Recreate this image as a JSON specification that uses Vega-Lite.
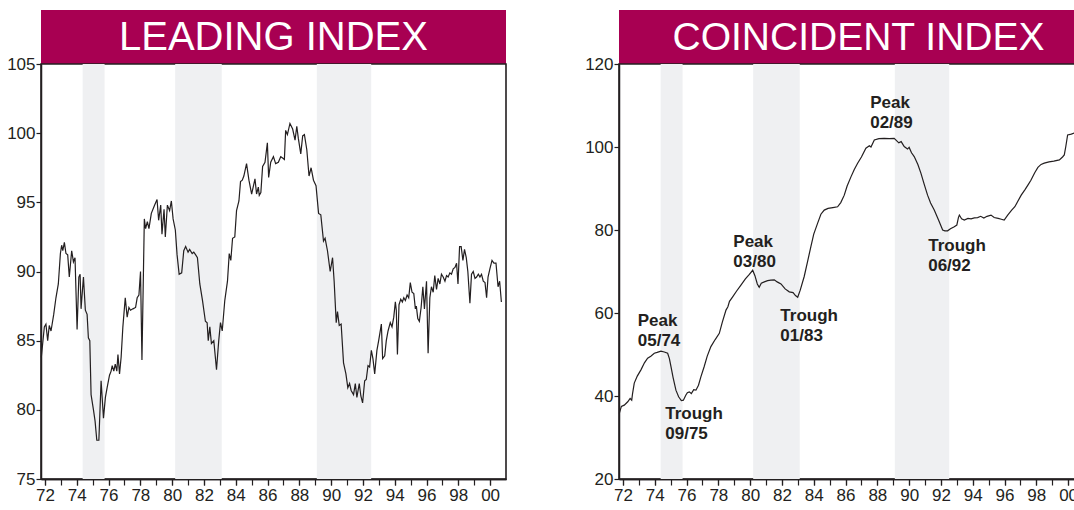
{
  "$schema": "https://vega.github.io/schema/vega-lite/v6.json",
  "padding": {"left": 5, "top": 10, "right": 0, "bottom": 0},
  "background": "white",
  "columns": 2,
  "spacing": {"row": 0, "column": 113},
  "bounds": "flush",
  "config": {
    "font": "Liberation Sans",
    "axis": {"labelFont": "Liberation Sans", "labelFontSize": 17, "labelColor": "#231F20", "tickColor": "#231F20", "domainColor": "#231F20", "grid": false, "domainWidth": 1.5, "tickWidth": 1.2, "labelFlush": false, "labelOverlap": false},
    "view": {"stroke": "#231F20", "strokeWidth": 1.6}
  },
  "datasets": {
    "rec": [
      {"start": 1974.37, "end": 1975.75},
      {"start": 1980.19, "end": 1983.12},
      {"start": 1989.1, "end": 1992.52}
    ],
    "lead": [
      {"year":1971.77,"value":83.8},{"year":1971.96,"value":86.0},{"year":1972.06,"value":86.2},{"year":1972.17,"value":85.0},{"year":1972.27,"value":86.1},{"year":1972.38,"value":85.7},{"year":1972.55,"value":86.9},{"year":1972.69,"value":88.1},{"year":1972.84,"value":89.1},{"year":1972.97,"value":91.3},{"year":1973.05,"value":91.9},{"year":1973.12,"value":91.5},{"year":1973.22,"value":92.1},{"year":1973.32,"value":91.3},{"year":1973.43,"value":91.2},{"year":1973.53,"value":89.6},{"year":1973.68,"value":91.5},{"year":1973.79,"value":90.7},{"year":1973.89,"value":91.0},{"year":1974.02,"value":85.8},{"year":1974.13,"value":89.6},{"year":1974.21,"value":89.8},{"year":1974.27,"value":87.3},{"year":1974.42,"value":89.6},{"year":1974.54,"value":87.2},{"year":1974.65,"value":86.9},{"year":1974.73,"value":85.2},{"year":1974.82,"value":85.0},{"year":1974.9,"value":81.1},{"year":1975.05,"value":80.0},{"year":1975.15,"value":79.2},{"year":1975.26,"value":77.8},{"year":1975.39,"value":77.8},{"year":1975.53,"value":82.1},{"year":1975.68,"value":79.4},{"year":1975.8,"value":80.9},{"year":1975.91,"value":81.6},{"year":1976.06,"value":82.5},{"year":1976.16,"value":82.8},{"year":1976.23,"value":83.2},{"year":1976.33,"value":82.8},{"year":1976.42,"value":83.3},{"year":1976.52,"value":82.8},{"year":1976.59,"value":84.0},{"year":1976.69,"value":82.6},{"year":1976.79,"value":83.8},{"year":1976.9,"value":86.0},{"year":1977.05,"value":88.1},{"year":1977.17,"value":86.7},{"year":1977.28,"value":87.4},{"year":1977.38,"value":87.2},{"year":1977.53,"value":87.3},{"year":1977.7,"value":87.4},{"year":1977.8,"value":88.1},{"year":1977.91,"value":88.3},{"year":1978.01,"value":90.0},{"year":1978.1,"value":83.6},{"year":1978.25,"value":93.8},{"year":1978.33,"value":93.1},{"year":1978.44,"value":93.6},{"year":1978.54,"value":93.1},{"year":1978.69,"value":94.2},{"year":1978.9,"value":94.8},{"year":1979.05,"value":95.2},{"year":1979.15,"value":93.7},{"year":1979.28,"value":94.8},{"year":1979.36,"value":92.7},{"year":1979.49,"value":94.5},{"year":1979.57,"value":92.5},{"year":1979.7,"value":94.8},{"year":1979.84,"value":94.4},{"year":1979.95,"value":95.1},{"year":1980.06,"value":93.8},{"year":1980.2,"value":93.0},{"year":1980.31,"value":91.2},{"year":1980.44,"value":89.8},{"year":1980.6,"value":89.9},{"year":1980.73,"value":91.5},{"year":1980.85,"value":91.8},{"year":1981.0,"value":91.4},{"year":1981.1,"value":91.6},{"year":1981.26,"value":91.3},{"year":1981.36,"value":91.4},{"year":1981.48,"value":91.2},{"year":1981.59,"value":91.0},{"year":1981.74,"value":89.1},{"year":1981.91,"value":87.9},{"year":1982.09,"value":86.4},{"year":1982.2,"value":86.3},{"year":1982.27,"value":85.0},{"year":1982.37,"value":86.0},{"year":1982.47,"value":84.8},{"year":1982.62,"value":85.0},{"year":1982.79,"value":82.9},{"year":1982.93,"value":85.0},{"year":1983.04,"value":86.3},{"year":1983.15,"value":85.7},{"year":1983.31,"value":87.9},{"year":1983.48,"value":89.3},{"year":1983.59,"value":91.3},{"year":1983.69,"value":90.8},{"year":1983.8,"value":92.4},{"year":1983.94,"value":92.5},{"year":1984.05,"value":94.4},{"year":1984.2,"value":95.1},{"year":1984.3,"value":96.5},{"year":1984.41,"value":96.6},{"year":1984.51,"value":96.9},{"year":1984.68,"value":97.8},{"year":1984.83,"value":96.6},{"year":1985.0,"value":95.6},{"year":1985.21,"value":96.7},{"year":1985.31,"value":95.6},{"year":1985.42,"value":96.1},{"year":1985.48,"value":95.5},{"year":1985.58,"value":95.7},{"year":1985.69,"value":97.6},{"year":1985.84,"value":97.9},{"year":1985.99,"value":99.3},{"year":1986.07,"value":96.8},{"year":1986.2,"value":97.9},{"year":1986.37,"value":98.3},{"year":1986.51,"value":97.8},{"year":1986.68,"value":97.9},{"year":1986.83,"value":98.3},{"year":1986.95,"value":98.2},{"year":1987.06,"value":98.1},{"year":1987.14,"value":100.2},{"year":1987.25,"value":99.9},{"year":1987.41,"value":100.7},{"year":1987.58,"value":100.3},{"year":1987.73,"value":99.5},{"year":1987.84,"value":100.5},{"year":1987.94,"value":99.6},{"year":1988.09,"value":98.5},{"year":1988.21,"value":99.8},{"year":1988.32,"value":99.9},{"year":1988.47,"value":98.8},{"year":1988.61,"value":96.9},{"year":1988.74,"value":97.5},{"year":1988.89,"value":96.6},{"year":1989.05,"value":96.2},{"year":1989.21,"value":94.2},{"year":1989.35,"value":94.1},{"year":1989.52,"value":92.2},{"year":1989.62,"value":92.4},{"year":1989.77,"value":91.5},{"year":1989.94,"value":90.0},{"year":1990.09,"value":91.0},{"year":1990.19,"value":89.3},{"year":1990.32,"value":86.3},{"year":1990.4,"value":87.1},{"year":1990.51,"value":86.1},{"year":1990.63,"value":86.2},{"year":1990.78,"value":83.4},{"year":1990.93,"value":82.6},{"year":1991.05,"value":81.6},{"year":1991.16,"value":81.9},{"year":1991.26,"value":81.4},{"year":1991.41,"value":81.1},{"year":1991.52,"value":81.9},{"year":1991.62,"value":80.9},{"year":1991.77,"value":81.9},{"year":1991.87,"value":81.0},{"year":1991.98,"value":80.5},{"year":1992.11,"value":82.1},{"year":1992.21,"value":82.2},{"year":1992.32,"value":83.2},{"year":1992.42,"value":83.1},{"year":1992.53,"value":84.3},{"year":1992.63,"value":83.7},{"year":1992.74,"value":82.6},{"year":1992.88,"value":84.3},{"year":1992.99,"value":85.0},{"year":1993.16,"value":86.2},{"year":1993.24,"value":83.7},{"year":1993.37,"value":83.9},{"year":1993.47,"value":85.0},{"year":1993.58,"value":85.7},{"year":1993.72,"value":86.3},{"year":1993.83,"value":86.0},{"year":1993.94,"value":86.7},{"year":1994.04,"value":87.8},{"year":1994.1,"value":87.2},{"year":1994.17,"value":84.0},{"year":1994.27,"value":87.6},{"year":1994.38,"value":88.0},{"year":1994.48,"value":87.8},{"year":1994.57,"value":88.1},{"year":1994.67,"value":87.9},{"year":1994.78,"value":88.3},{"year":1994.88,"value":88.1},{"year":1994.98,"value":89.2},{"year":1995.09,"value":88.5},{"year":1995.2,"value":88.4},{"year":1995.3,"value":87.3},{"year":1995.36,"value":87.5},{"year":1995.45,"value":86.6},{"year":1995.55,"value":86.4},{"year":1995.66,"value":87.4},{"year":1995.77,"value":88.9},{"year":1995.87,"value":87.3},{"year":1996.0,"value":89.3},{"year":1996.1,"value":84.1},{"year":1996.21,"value":88.1},{"year":1996.31,"value":88.9},{"year":1996.42,"value":88.5},{"year":1996.52,"value":89.7},{"year":1996.63,"value":88.7},{"year":1996.73,"value":89.5},{"year":1996.84,"value":89.1},{"year":1996.94,"value":89.8},{"year":1997.05,"value":89.6},{"year":1997.16,"value":89.3},{"year":1997.26,"value":89.7},{"year":1997.36,"value":89.6},{"year":1997.47,"value":89.9},{"year":1997.57,"value":89.8},{"year":1997.68,"value":90.2},{"year":1997.79,"value":90.3},{"year":1997.89,"value":90.6},{"year":1997.98,"value":89.1},{"year":1998.08,"value":91.8},{"year":1998.18,"value":91.8},{"year":1998.29,"value":90.8},{"year":1998.39,"value":91.6},{"year":1998.5,"value":91.0},{"year":1998.6,"value":90.0},{"year":1998.73,"value":87.7},{"year":1998.83,"value":89.8},{"year":1998.94,"value":90.0},{"year":1999.05,"value":89.5},{"year":1999.15,"value":89.6},{"year":1999.26,"value":89.8},{"year":1999.36,"value":89.6},{"year":1999.46,"value":89.8},{"year":1999.57,"value":89.3},{"year":1999.68,"value":89.2},{"year":1999.78,"value":88.1},{"year":1999.87,"value":89.6},{"year":1999.99,"value":90.2},{"year":2000.12,"value":90.8},{"year":2000.24,"value":90.6},{"year":2000.37,"value":90.6},{"year":2000.5,"value":88.9},{"year":2000.6,"value":89.3},{"year":2000.71,"value":87.8}
    ],
    "coin": [
      {"year":1971.77,"value":35.8},{"year":1971.9,"value":37.5},{"year":1972.08,"value":37.8},{"year":1972.3,"value":38.6},{"year":1972.45,"value":39.4},{"year":1972.55,"value":39.0},{"year":1972.6,"value":40.5},{"year":1972.71,"value":43.1},{"year":1972.9,"value":44.8},{"year":1973.13,"value":46.3},{"year":1973.35,"value":48.0},{"year":1973.55,"value":49.1},{"year":1973.75,"value":49.6},{"year":1973.97,"value":50.3},{"year":1974.15,"value":50.5},{"year":1974.39,"value":50.8},{"year":1974.6,"value":50.6},{"year":1974.81,"value":50.3},{"year":1974.92,"value":49.0},{"year":1975.02,"value":47.1},{"year":1975.15,"value":44.5},{"year":1975.33,"value":41.4},{"year":1975.5,"value":39.8},{"year":1975.67,"value":38.9},{"year":1975.8,"value":39.0},{"year":1975.95,"value":40.2},{"year":1976.05,"value":40.8},{"year":1976.17,"value":41.0},{"year":1976.3,"value":40.6},{"year":1976.45,"value":41.5},{"year":1976.59,"value":41.4},{"year":1976.75,"value":42.6},{"year":1976.9,"value":44.6},{"year":1977.11,"value":47.1},{"year":1977.3,"value":49.6},{"year":1977.53,"value":51.9},{"year":1977.8,"value":53.6},{"year":1978.06,"value":55.1},{"year":1978.25,"value":57.8},{"year":1978.48,"value":60.7},{"year":1978.6,"value":61.5},{"year":1978.7,"value":62.8},{"year":1978.9,"value":63.9},{"year":1979.15,"value":65.3},{"year":1979.42,"value":66.7},{"year":1979.7,"value":68.2},{"year":1979.95,"value":69.3},{"year":1980.16,"value":70.3},{"year":1980.3,"value":69.0},{"year":1980.45,"value":67.0},{"year":1980.57,"value":66.2},{"year":1980.7,"value":67.2},{"year":1980.89,"value":67.5},{"year":1981.1,"value":67.8},{"year":1981.3,"value":67.9},{"year":1981.52,"value":68.0},{"year":1981.7,"value":67.5},{"year":1981.94,"value":67.0},{"year":1982.2,"value":65.8},{"year":1982.46,"value":65.1},{"year":1982.7,"value":64.9},{"year":1982.85,"value":64.2},{"year":1982.99,"value":63.8},{"year":1983.15,"value":65.5},{"year":1983.4,"value":68.8},{"year":1983.6,"value":72.2},{"year":1983.82,"value":76.0},{"year":1984.0,"value":79.0},{"year":1984.24,"value":81.6},{"year":1984.45,"value":83.8},{"year":1984.66,"value":84.8},{"year":1984.9,"value":85.2},{"year":1985.2,"value":85.4},{"year":1985.5,"value":85.6},{"year":1985.7,"value":86.6},{"year":1985.92,"value":88.4},{"year":1986.1,"value":90.6},{"year":1986.34,"value":92.8},{"year":1986.55,"value":94.6},{"year":1986.76,"value":96.1},{"year":1987.0,"value":97.6},{"year":1987.28,"value":99.7},{"year":1987.5,"value":100.3},{"year":1987.6,"value":100.0},{"year":1987.81,"value":101.7},{"year":1988.1,"value":102.0},{"year":1988.43,"value":102.1},{"year":1988.75,"value":102.0},{"year":1989.06,"value":102.1},{"year":1989.35,"value":101.0},{"year":1989.5,"value":101.3},{"year":1989.69,"value":100.1},{"year":1989.9,"value":99.5},{"year":1990.0,"value":99.9},{"year":1990.15,"value":98.6},{"year":1990.32,"value":97.7},{"year":1990.55,"value":95.8},{"year":1990.74,"value":93.7},{"year":1990.95,"value":91.0},{"year":1991.16,"value":88.4},{"year":1991.35,"value":86.5},{"year":1991.58,"value":84.8},{"year":1991.85,"value":82.4},{"year":1992.11,"value":80.0},{"year":1992.25,"value":79.8},{"year":1992.42,"value":79.8},{"year":1992.6,"value":80.3},{"year":1992.84,"value":80.8},{"year":1993.0,"value":81.2},{"year":1993.1,"value":83.0},{"year":1993.16,"value":83.6},{"year":1993.3,"value":82.7},{"year":1993.47,"value":82.4},{"year":1993.7,"value":82.8},{"year":1993.9,"value":82.7},{"year":1994.1,"value":82.9},{"year":1994.31,"value":83.0},{"year":1994.5,"value":83.3},{"year":1994.7,"value":82.9},{"year":1994.9,"value":83.3},{"year":1995.15,"value":83.6},{"year":1995.35,"value":83.0},{"year":1995.6,"value":82.8},{"year":1995.8,"value":82.6},{"year":1995.98,"value":82.4},{"year":1996.2,"value":83.6},{"year":1996.45,"value":84.8},{"year":1996.65,"value":85.6},{"year":1996.82,"value":86.8},{"year":1997.05,"value":88.4},{"year":1997.3,"value":89.8},{"year":1997.5,"value":91.0},{"year":1997.66,"value":92.0},{"year":1997.9,"value":93.8},{"year":1998.1,"value":95.1},{"year":1998.3,"value":95.8},{"year":1998.5,"value":96.1},{"year":1998.8,"value":96.4},{"year":1999.1,"value":96.6},{"year":1999.45,"value":96.9},{"year":1999.65,"value":97.6},{"year":1999.76,"value":98.1},{"year":1999.85,"value":100.0},{"year":1999.97,"value":102.9},{"year":2000.2,"value":103.1},{"year":2000.43,"value":103.4},{"year":2000.7,"value":103.8},{"year":2000.95,"value":104.0}
    ],
    "notes": [
      {"x": 1972.93, "y": 58.1, "label": "Peak\n05/74"},
      {"x": 1974.66, "y": 35.7, "label": "Trough\n09/75"},
      {"x": 1978.94, "y": 77.0, "label": "Peak\n03/80"},
      {"x": 1981.9, "y": 59.3, "label": "Trough\n01/83"},
      {"x": 1987.55, "y": 110.5, "label": "Peak\n02/89"},
      {"x": 1991.2, "y": 76.2, "label": "Trough\n06/92"}
    ]
  },
  "concat": [
    {
      "width": 465, "height": 54,
      "data": {"values": [{"t": "LEADING INDEX"}]},
      "view": {"fill": "#A80052", "stroke": null},
      "mark": {"type": "text", "color": "white", "fontSize": 40, "font": "Liberation Sans", "align": "center", "baseline": "middle", "dy": 1},
      "encoding": {"text": {"field": "t", "type": "nominal"}}
    },
    {
      "width": 465, "height": 54,
      "data": {"values": [{"t": "COINCIDENT INDEX"}]},
      "view": {"fill": "#A80052", "stroke": null},
      "mark": {"type": "text", "color": "white", "fontSize": 39, "font": "Liberation Sans", "align": "center", "baseline": "middle", "dy": 1, "dx": 7},
      "encoding": {"text": {"field": "t", "type": "nominal"}}
    },
    {
      "width": 465, "height": 415,
      "resolve": {"axis": {"x": "independent"}},
      "layer": [
        {
          "data": {"name": "rec"},
          "mark": {"type": "rect", "color": "#EFF0F2"},
          "encoding": {
            "x": {"field": "start", "type": "quantitative", "scale": {"domain": [1971.75, 2001.0], "nice": false, "zero": false},
              "axis": {"orient": "bottom", "title": null, "values": [1972,1973,1974,1975,1976,1977,1978,1979,1980,1981,1982,1983,1984,1985,1986,1987,1988,1989,1990,1991,1992,1993,1994,1995,1996,1997,1998,1999,2000], "labels": false, "tickSize": 6}},
            "x2": {"field": "end"}
          }
        },
        {
          "data": {"name": "lead"},
          "mark": {"type": "line", "color": "#231F20", "strokeWidth": 1.2},
          "encoding": {
            "x": {"field": "year", "type": "quantitative", "scale": {"domain": [1971.75, 2001.0], "nice": false, "zero": false},
              "axis": {"orient": "bottom", "title": null, "values": [1972,1974,1976,1978,1980,1982,1984,1986,1988,1990,1992,1994,1996,1998,2000], "labelExpr": "substring(toString(datum.value), 2, 4)", "tickSize": 6, "labelPadding": 2, "labelOverlap": false, "labelFlush": false}},
            "y": {"field": "value", "type": "quantitative", "scale": {"domain": [75, 105], "nice": false, "zero": false},
              "axis": {"title": null, "values": [75, 80, 85, 90, 95, 100, 105], "tickSize": 5, "labelPadding": 1, "labelOverlap": false, "labelFlush": false}}
          }
        }
      ]
    },
    {
      "width": 465, "height": 415,
      "resolve": {"axis": {"x": "independent"}},
      "layer": [
        {
          "data": {"name": "rec"},
          "mark": {"type": "rect", "color": "#EFF0F2"},
          "encoding": {
            "x": {"field": "start", "type": "quantitative", "scale": {"domain": [1971.75, 2001.0], "nice": false, "zero": false},
              "axis": {"orient": "bottom", "title": null, "values": [1972,1973,1974,1975,1976,1977,1978,1979,1980,1981,1982,1983,1984,1985,1986,1987,1988,1989,1990,1991,1992,1993,1994,1995,1996,1997,1998,1999,2000], "labels": false, "tickSize": 6}},
            "x2": {"field": "end"}
          }
        },
        {
          "data": {"name": "coin"},
          "mark": {"type": "line", "color": "#231F20", "strokeWidth": 1.2},
          "encoding": {
            "x": {"field": "year", "type": "quantitative", "scale": {"domain": [1971.75, 2001.0], "nice": false, "zero": false},
              "axis": {"orient": "bottom", "title": null, "values": [1972,1974,1976,1978,1980,1982,1984,1986,1988,1990,1992,1994,1996,1998,2000], "labelExpr": "substring(toString(datum.value), 2, 4)", "tickSize": 6, "labelPadding": 2, "labelOverlap": false, "labelFlush": false}},
            "y": {"field": "value", "type": "quantitative", "scale": {"domain": [20, 120], "nice": false, "zero": false},
              "axis": {"title": null, "values": [20, 40, 60, 80, 100, 120], "tickSize": 5, "labelPadding": 1, "labelOverlap": false, "labelFlush": false}}
          }
        },
        {
          "data": {"name": "notes"},
          "mark": {"type": "text", "align": "left", "baseline": "middle", "fontSize": 17, "fontWeight": "bold", "lineBreak": "\n", "lineHeight": 20, "color": "#231F20"},
          "encoding": {
            "x": {"field": "x", "type": "quantitative", "axis": null},
            "y": {"field": "y", "type": "quantitative"},
            "text": {"field": "label", "type": "nominal"}
          }
        }
      ]
    }
  ]
}
